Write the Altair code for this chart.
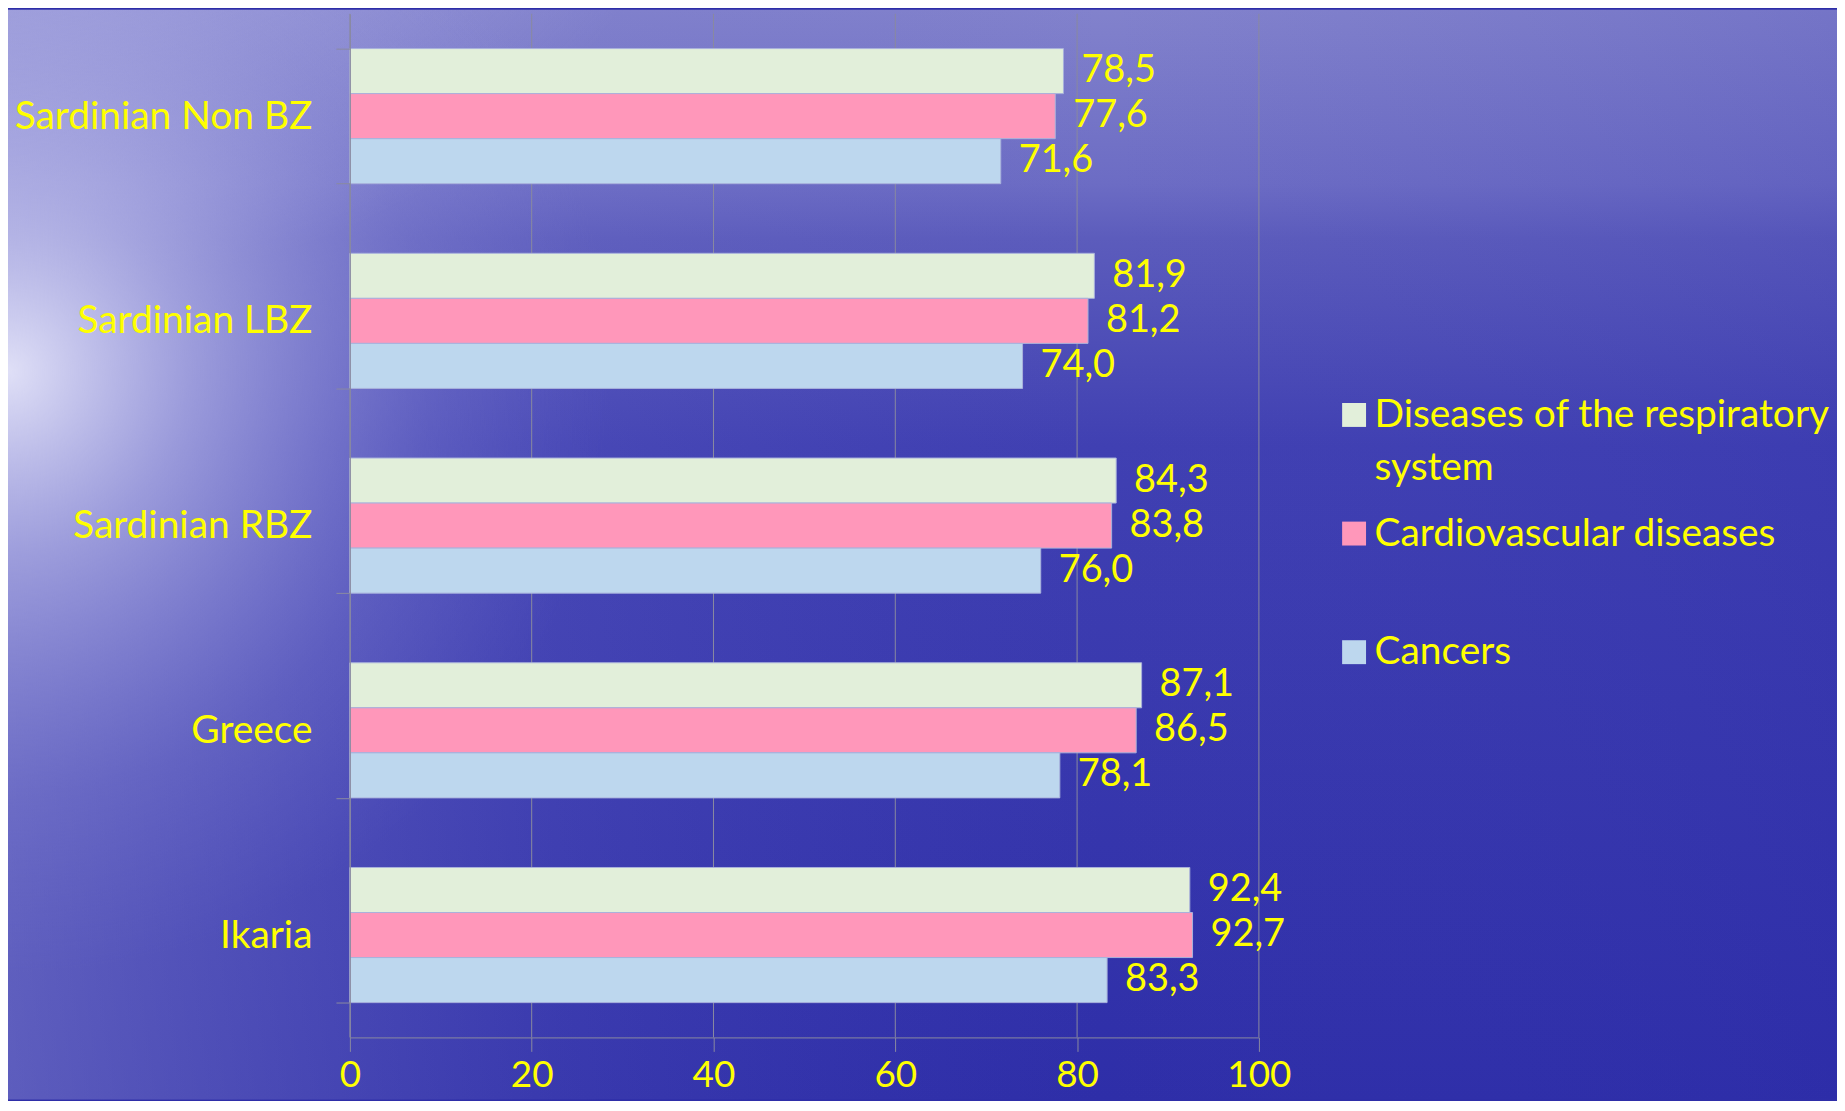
import altair as alt
import pandas as pd

regions = ["Sardinian Non BZ", "Sardinian LBZ", "Sardinian RBZ", "Greece", "Ikaria"]
series = ["Diseases of the respiratory system", "Cardiovascular diseases", "Cancers"]
colors = ["#E2EFDA", "#FF97BA", "#BDD7EE"]
respiratory = [78.5, 81.9, 84.3, 87.1, 92.4]
cardiovascular = [77.6, 81.2, 83.8, 86.5, 92.7]
cancers = [71.6, 74.0, 76.0, 78.1, 83.3]
x_ticks = [0, 20, 40, 60, 80, 100]

rows = []
for i, r in enumerate(regions):
    for s, vals in zip(series, [respiratory, cardiovascular, cancers]):
        rows.append({"region": r, "series": s, "value": vals[i]})
df = pd.DataFrame(rows)
ticks_df = pd.DataFrame({"value": x_ticks})

FONT = "Lato"
YELLOW = "#FFFF00"
GRID = "#8a8aa0"
W, H = 912, 1027
PAD = {"left": 343, "top": 4, "right": 580, "bottom": 62}

bg_linear = {
    "gradient": "linear", "x1": 0, "y1": 0, "x2": 0, "y2": 1,
    "stops": [
        {"offset": 0.0, "color": "#8282cc"},
        {"offset": 0.16, "color": "#6c6cc4"},
        {"offset": 0.21, "color": "#5c5cbc"},
        {"offset": 0.4, "color": "#4040b2"},
        {"offset": 1.0, "color": "#2e2ea8"},
    ],
}
bg_side = {
    "gradient": "linear", "x1": 0, "y1": 0, "x2": 1, "y2": 0,
    "stops": [
        {"offset": 0.0, "color": "rgba(150,150,215,0.45)"},
        {"offset": 0.3, "color": "rgba(120,120,205,0.15)"},
        {"offset": 0.6, "color": "rgba(80,80,190,0)"},
        {"offset": 1.0, "color": "rgba(40,40,170,0.15)"},
    ],
}
bg_glow = {
    "gradient": "radial", "x1": 0.0, "y1": 0.4, "r1": 0.0,
    "x2": 0.0, "y2": 0.4, "r2": 0.33,
    "stops": [
        {"offset": 0.0, "color": "rgba(236,236,252,0.9)"},
        {"offset": 0.3, "color": "rgba(205,205,242,0.55)"},
        {"offset": 0.7, "color": "rgba(160,160,225,0.18)"},
        {"offset": 1.0, "color": "rgba(140,140,220,0)"},
    ],
}
bg_sky = {
    "gradient": "radial", "x1": 0.05, "y1": 0.0, "r1": 0.0,
    "x2": 0.05, "y2": 0.0, "r2": 0.35,
    "stops": [
        {"offset": 0.0, "color": "rgba(200,200,238,0.6)"},
        {"offset": 1.0, "color": "rgba(200,200,238,0)"},
    ],
}

bg_data = alt.Data(values=[{"k": 1}])


def bg(fill):
    return alt.Chart(bg_data).mark_rect(fill=fill).encode(
        x=alt.value(-PAD["left"]), x2=alt.value(W + PAD["right"]),
        y=alt.value(-PAD["top"]), y2=alt.value(H + PAD["bottom"]),
    )


x_enc = alt.X(
    "value:Q", title=None,
    scale=alt.Scale(domain=[0, 100], nice=False),
    axis=alt.Axis(
        values=x_ticks, labelColor=YELLOW, labelFont=FONT, labelFontSize=37,
        labelPadding=6, tickSize=14, tickColor=GRID, domainColor=GRID,
        grid=False, labelFlush=False, zindex=1,
    ),
)

grid = alt.Chart(ticks_df).mark_rule(color=GRID, strokeWidth=1).encode(x=x_enc)

base = alt.Chart(df).encode(
    y=alt.Y(
        "region:N", sort=regions, title=None,
        scale=alt.Scale(paddingInner=0.34, paddingOuter=0.17),
        axis=alt.Axis(
            labelColor=YELLOW, labelFont=FONT, labelFontSize=39,
            labelPadding=24, tickSize=14, tickColor=GRID, domainColor=GRID,
            tickBand="extent", grid=False, labelLimit=400, zindex=1,
        ),
    ),
    yOffset=alt.YOffset("series:N", sort=series, scale=alt.Scale(domain=series)),
    x=x_enc,
)

bars = base.mark_bar(stroke="#a9b2dc", strokeWidth=1).encode(
    color=alt.Color(
        "series:N", sort=series, title=None,
        scale=alt.Scale(domain=series, range=colors),
        legend=alt.Legend(
            orient="none", legendX=988, legendY=383, padding=0,
            symbolType="square", symbolSize=576, symbolStrokeWidth=0,
            labelColor=YELLOW, labelFont=FONT, labelFontSize=39, labelLimit=700,
            labelOffset=1, rowPadding=26,
            labelExpr="datum.label == 'Diseases of the respiratory system' ? ['Diseases of the respiratory', 'system'] : [datum.label, '']",
        ),
    )
)

labels = base.transform_calculate(
    label="replace(format(datum.value, '.1f'), '.', ',')"
).mark_text(
    align="left", baseline="middle", dx=18, color=YELLOW, font=FONT, fontSize=38
).encode(text="label:N")

chart = alt.layer(
    bg(bg_linear), bg(bg_side), bg(bg_sky), bg(bg_glow), grid, bars, labels
).properties(
    width=W, height=H, padding=PAD, autosize="none", background="#2e2ea8"
).configure(
    style={"guide-label": {"lineHeight": 53}}
).configure_view(stroke=None)

chart.save("out.html", embed_options={"renderer": "svg", "actions": False})
